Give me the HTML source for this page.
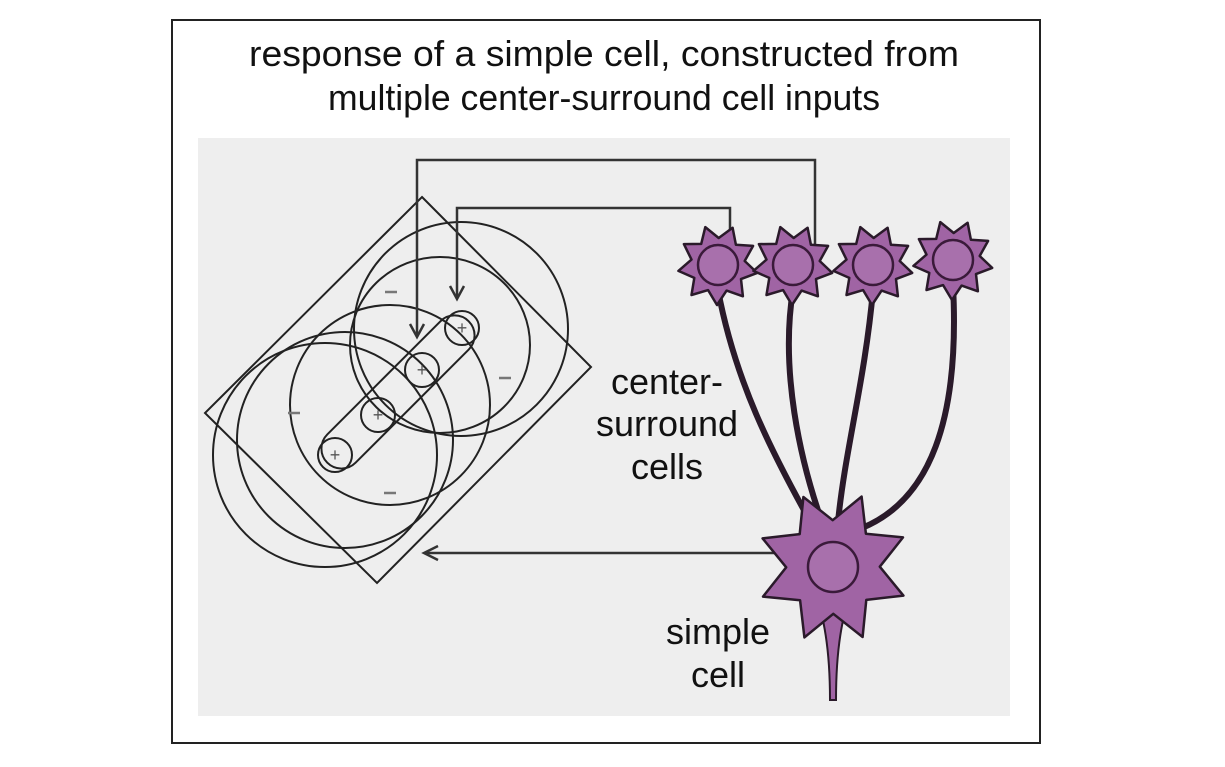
<!DOCTYPE html>
<html><head><meta charset="utf-8"><style>
html,body{margin:0;padding:0;background:#fff;}
svg{display:block;font-family:"Liberation Sans",Arial,sans-serif;}
</style></head><body>
<svg id="fig" width="1225" height="767" viewBox="0 0 1225 767">
<rect x="172" y="20" width="868" height="723" fill="#fff" stroke="#222" stroke-width="2"/>
<text x="604" y="66" font-size="36" text-anchor="middle" textLength="710" lengthAdjust="spacingAndGlyphs" fill="#111">response of a simple cell, constructed from</text>
<text x="604" y="110" font-size="36" text-anchor="middle" textLength="552" lengthAdjust="spacingAndGlyphs" fill="#111">multiple center-surround cell inputs</text>
<rect x="198" y="138" width="812" height="578" fill="#eeeeee"/>
<g id="rf" fill="none" stroke="#222" stroke-width="2">
  <polygon points="422,197 591,367 377,583 205,413"/>
  <circle cx="461" cy="329" r="107"/>
  <ellipse cx="440" cy="345" rx="90" ry="88"/>
  <circle cx="390" cy="405" r="100"/>
  <circle cx="345" cy="440" r="108"/>
  <circle cx="325" cy="455" r="112"/>
  <g transform="rotate(-45 398 392)">
    <rect x="298" y="372" width="200" height="40" rx="20"/>
  </g>
  <circle cx="462" cy="328" r="17"/>
  <circle cx="422" cy="370" r="17"/>
  <circle cx="378" cy="415" r="17"/>
  <circle cx="335" cy="455" r="17"/>
</g>
<g font-size="18" fill="#555" text-anchor="middle">
  <text x="462" y="334">+</text>
  <text x="422" y="376">+</text>
  <text x="378" y="421">+</text>
  <text x="335" y="461">+</text>
</g>
<g stroke="#777" stroke-width="2.5">
  <line x1="385" y1="292" x2="397" y2="292"/>
  <line x1="499" y1="378" x2="511" y2="378"/>
  <line x1="288" y1="413" x2="300" y2="413"/>
  <line x1="384" y1="493" x2="396" y2="493"/>
</g>
<g fill="none" stroke="#333" stroke-width="2.5">
  <polyline points="815,245 815,160 417,160 417,335"/>
  <polyline points="410,324 417,337 424,324"/>
  <polyline points="730,240 730,208 457,208 457,297"/>
  <polyline points="450,286 457,299 464,286"/>
  <line x1="790" y1="553" x2="424" y2="553"/>
  <polyline points="438,546 424,553 438,560"/>
</g>
<g fill="none" stroke="#2a1a2a" stroke-width="6" stroke-linecap="round">
  <path d="M718,290 C735,380 770,450 815,530"/>
  <path d="M793,290 C780,370 800,460 822,522"/>
  <path d="M873,290 C865,380 845,450 838,522"/>
  <path d="M953,285 C960,420 930,500 862,528"/>
</g>
<g id="neurons"></g>
<g font-size="36" fill="#111" text-anchor="middle">
  <text x="667" y="394">center-</text>
  <text x="667" y="436">surround</text>
  <text x="667" y="479">cells</text>
  <text x="718" y="644">simple</text>
  <text x="718" y="687">cell</text>
</g>
</svg>
<script>
const neuronX = [718, 793, 873, 953, 833];
const neuronY = [265, 265, 265, 260, 567];
const neuronR = [30, 30, 30, 30, 52];
const nucleusR = [20, 20, 20, 20, 25];
const g = document.getElementById('neurons');
const NS = 'http://www.w3.org/2000/svg';
function star(cx, cy, r, n, spike, rot){
  let d = '';
  const pts = n*2;
  for(let i=0;i<pts;i++){
    const a = rot + i*Math.PI*2/pts;
    const rr = i%2===0 ? r+spike : r*0.9;
    d += (i?'L':'M') + (cx+rr*Math.cos(a)).toFixed(1) + ',' + (cy+rr*Math.sin(a)).toFixed(1);
  }
  return d+'Z';
}
for(let i=0;i<neuronX.length;i++){
  const big = i===4;
  if(big){
    const ax = document.createElementNS(NS,'path');
    ax.setAttribute('d', `M${neuronX[i]-12},${neuronY[i]+45} Q${neuronX[i]-3},${neuronY[i]+80} ${neuronX[i]-3},700 L${neuronX[i]+3},700 Q${neuronX[i]+3},${neuronY[i]+80} ${neuronX[i]+12},${neuronY[i]+45}Z`);
    ax.setAttribute('fill','#a064a4');
    ax.setAttribute('stroke','#2a1a2a');
    ax.setAttribute('stroke-width','2');
    
    
    g.appendChild(ax);
  }
  const body = document.createElementNS(NS,'path');
  body.setAttribute('d', star(neuronX[i], neuronY[i], neuronR[i], big?8:9, big?24:10, big?-0.4:0.2));
  body.setAttribute('fill','#a064a4');
  body.setAttribute('stroke','#2a1a2a');
  body.setAttribute('stroke-width','2.5');
  body.setAttribute('stroke-linejoin','round');
  
  
  g.appendChild(body);
  const nuc = document.createElementNS(NS,'circle');
  nuc.setAttribute('cx', neuronX[i]);
  nuc.setAttribute('cy', neuronY[i]);
  nuc.setAttribute('r', nucleusR[i]);
  nuc.setAttribute('fill','#a870ac');
  nuc.setAttribute('stroke','#3a1a3a');
  nuc.setAttribute('stroke-width','2.5');
  
  
  g.appendChild(nuc);
}
</script>
</body></html>
